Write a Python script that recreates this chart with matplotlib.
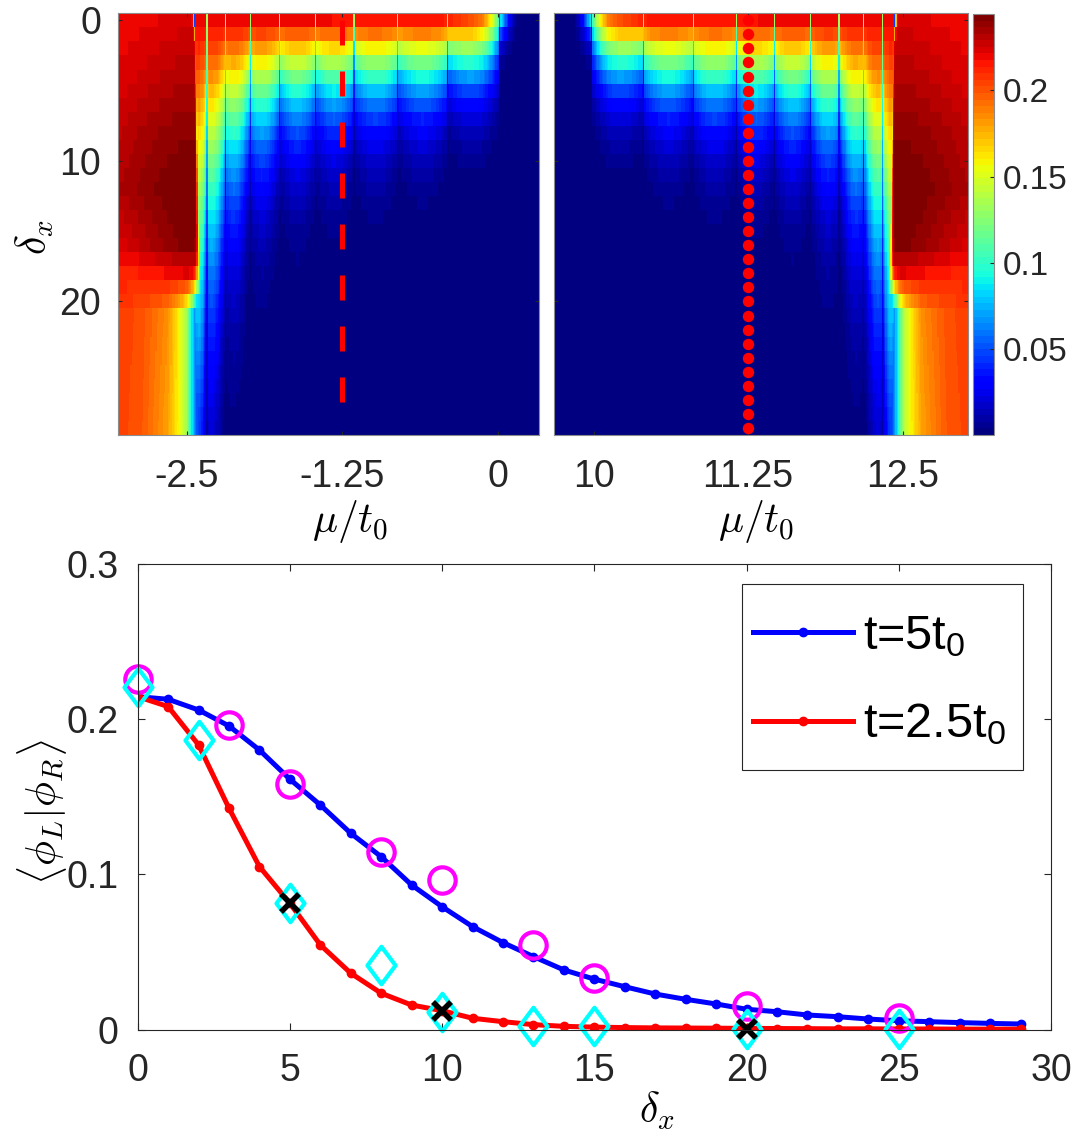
import numpy as np
import matplotlib
matplotlib.use("Agg")
import matplotlib.pyplot as plt
from matplotlib.path import Path
from matplotlib.patches import Rectangle

plt.rcParams['font.family'] = ['Liberation Sans', 'DejaVu Sans']
plt.rcParams['mathtext.fontset'] = 'custom'
plt.rcParams['mathtext.rm'] = 'Liberation Sans'
plt.rcParams['mathtext.it'] = 'Liberation Sans:italic'
plt.rcParams['axes.unicode_minus'] = False

GREY = (0.15, 0.15, 0.15)

# ---- bottom panel data ----
delta = np.arange(30)
t5 = [0.2144, 0.2127, 0.2058, 0.1955, 0.1800, 0.1612, 0.1446, 0.1264, 0.1113, 0.0931,
      0.0791, 0.0663, 0.0560, 0.0470, 0.0384, 0.0325, 0.0276, 0.0229, 0.0195, 0.0165,
      0.0131, 0.0115, 0.0094, 0.0083, 0.0068, 0.0057, 0.0051, 0.0045, 0.0040, 0.0036]
t25 = [0.2144, 0.2080, 0.1833, 0.1425, 0.1049, 0.0813, 0.0545, 0.0363, 0.0234, 0.0158,
       0.0122, 0.0073, 0.0051, 0.0032, 0.0021, 0.0016, 0.0013, 0.0011, 0.0010, 0.0009,
       0.0008, 0.0007, 0.0006, 0.0005, 0.0005, 0.0004, 0.0004, 0.0003, 0.0003, 0.0003]
circ_x = [0, 3, 5, 8, 10, 13, 15, 20, 25]
circ_y = [0.226, 0.196, 0.158, 0.1146, 0.0963, 0.0545, 0.033, 0.0152, 0.0073]
diam_x = [0, 2, 5, 8, 10, 13, 15, 20, 25]
diam_y = [0.2208, 0.1865, 0.0813, 0.0416, 0.0115, 0.002, 0.002, 0.0003, 0.0003]
cross_x = [5, 10, 20]
cross_y = [0.0813, 0.012, 0.0003]

# ---- top panels (left map; right map is its mirror mu -> 10 - mu) ----
mu_l = np.round(np.arange(-3.045, 0.33, 0.01), 3)
bulk_rows = [0, 4, 8, 12, 16, 18, 21, 29]
bulk_mu = [-3.05, -2.85, -2.65, -2.5, -2.42]
bulk_tab = [[0.218, 0.220, 0.222, 0.224, 0.224],
            [0.222, 0.226, 0.230, 0.232, 0.232],
            [0.228, 0.234, 0.238, 0.240, 0.240],
            [0.232, 0.238, 0.243, 0.244, 0.244],
            [0.222, 0.230, 0.238, 0.242, 0.240],
            [0.212, 0.214, 0.218, 0.222, 0.220],
            [0.206, 0.200, 0.185, 0.150, 0.090],
            [0.205, 0.198, 0.180, 0.150, 0.090]]
edge_rows = [0, 2, 10, 17, 19, 21, 29]
edge_mu = [-2.44, -2.42, -2.41, -2.40, -2.39, -2.40, -2.40]
edge_w = [0.004, 0.004, 0.004, 0.006, 0.02, 0.05, 0.05]
band_edges = [-2.43, -2.34, -2.18, -1.99, -1.75, -1.47, -1.16, -0.80, -0.41, 0.01]
seg_cyan_row = [15.0, 10.5, 7.0, 5.4, 4.5, 4.1, 3.8, 3.5, 2.9]
seg_tilt = [0.4, 0.55, 0.4, 0.2, 0.0, 0.0, 0.0, 0.0, 0.0]
amp_mu = [-3.05, -0.45, -0.2, -0.12, -0.04, 0.01, 0.09, 0.16, 0.33]
amp_val = [0.222, 0.215, 0.2, 0.19, 0.15, 0.1, 0.03, 0.0, 0.0]
mu_cut_left = -1.25
mu_cut_right = 11.25


def build_left():
    D = delta[:, None].astype(float)
    M = mu_l[None, :]
    tab = np.array(bulk_tab)
    tab_rows = np.array([np.interp(delta, bulk_rows, tab[:, j]) for j in range(len(bulk_mu))]).T
    bulk = np.array([np.interp(mu_l, bulk_mu, tab_rows[i]) for i in range(len(delta))])
    e_mu = np.interp(delta, edge_rows, edge_mu)[:, None]
    e_w = np.interp(delta, edge_rows, edge_w)[:, None]
    arg = np.clip((M - e_mu) / e_w, -50, 50)
    bulk = bulk / (1 + np.exp(arg))

    amp = np.interp(mu_l, amp_mu, amp_val)
    xi = np.full(mu_l.size, 1.2)
    for i in range(len(band_edges) - 1):
        a, b = band_edges[i], band_edges[i + 1]
        sel = (mu_l >= a) & (mu_l < b)
        f = (mu_l[sel] - a) / (b - a)
        tilt = seg_tilt[i]
        xi[sel] = seg_cyan_row[i] * (1 + tilt / 2 - tilt * f) * (0.88 + 0.22 * np.sin(np.pi * f))
    band = amp[None, :] * np.exp(-np.log(2.2) * (D / xi[None, :]) ** 1.3)
    band[:, mu_l < band_edges[0]] = 0
    Z = np.maximum(bulk, band)
    for e in band_edges[1:]:
        k = np.argmin(np.abs(mu_l - e))
        Z[:, k] *= 0.6
    return np.clip(Z, 0.001, None)


Z_left = build_left()
Z_right = Z_left[:, ::-1]
mu_r = 10 - mu_l[::-1]


def edges(c):
    h = (c[1] - c[0]) / 2
    return np.append(c - h, c[-1] + h)


row_edges = np.arange(31) - 0.5

fig = plt.figure(figsize=(10.8, 11.38), dpi=100)
W, H = 1080.0, 1138.0


def px_axes(x0, y0, x1, y1):
    return fig.add_axes([x0 / W, 1 - y1 / H, (x1 - x0) / W, (y1 - y0) / H])


ax_l = px_axes(118, 13.3, 539, 435)
ax_r = px_axes(554, 13.3, 968.3, 435)
cax = px_axes(973.3, 14, 994.3, 435)
bx0, by0, bx1, by1 = 137.7, 563.7, 1051, 1029.6
ax_b = px_axes(bx0, by0, bx1, by1)

cmap = plt.get_cmap('jet', 64)
vmin, vmax = 0.0005, 0.244
pc = ax_l.pcolormesh(edges(mu_l), row_edges, Z_left, cmap=cmap, vmin=vmin, vmax=vmax,
                     shading='flat', antialiased=False)
ax_r.pcolormesh(edges(mu_r), row_edges, Z_right, cmap=cmap, vmin=vmin, vmax=vmax,
                shading='flat', antialiased=False)

ax_l.plot(np.full(delta.size, mu_cut_left), delta, color='red', lw=3.6,
          dashes=(5, 5.2), dash_capstyle='butt')
ax_r.plot(np.full(delta.size, mu_cut_right), delta, ls='none', marker='o', ms=7.2,
          mfc='red', mec='red')

for ax, xl, ticks, labels in [(ax_l, (-3.05, 0.33), [-2.5, -1.25, 0], ['-2.5', '-1.25', '0']),
                              (ax_r, (9.68, 13.03), [10, 11.25, 12.5], ['10', '11.25', '12.5'])]:
    ax.set_xlim(*xl)
    ax.set_ylim(29.5, -0.5)
    ax.set_xticks(ticks)
    ax.set_xticklabels(labels)
    ax.set_yticks([0, 10, 20])
    ax.tick_params(direction='in', length=3, width=0.8, colors=GREY, labelsize=27,
                   top=True, right=True, pad=17)
    ax.tick_params(axis='y', pad=12)
    for s in ax.spines.values():
        s.set_color('0.55')
        s.set_linewidth(0.8)
ax_r.set_yticklabels([])

ax_l.set_xlabel(r'$\mu/t_0$', fontsize=30, math_fontfamily='cm', va='center')
ax_l.xaxis.set_label_coords(0.551, -0.205)
ax_r.set_xlabel(r'$\mu/t_0$', fontsize=30, math_fontfamily='cm', va='center')
ax_r.xaxis.set_label_coords(0.488, -0.205)
ax_l.set_ylabel(r'$\delta_x$', fontsize=30, math_fontfamily='cm', va='center')
ax_l.yaxis.set_label_coords(-0.197, 0.47)

cb = fig.colorbar(pc, cax=cax, ticks=[0.05, 0.1, 0.15, 0.2])
cb.ax.set_yticklabels(['0.05', '0.1', '0.15', '0.2'])
cb.ax.tick_params(direction='in', length=3, width=0.8, colors=GREY, labelsize=24, pad=6)
cb.outline.set_edgecolor('0.55')
cb.outline.set_linewidth(0.8)

# ---- bottom panel ----
ax_b.plot(delta, t5, color=(0, 0, 1), lw=3.6, marker='o', ms=6, label='t=5t$_0$')
ax_b.plot(delta, t25, color=(1, 0, 0), lw=3.6, marker='o', ms=6, label='t=2.5t$_0$')
ax_b.plot(circ_x, circ_y, ls='none', marker='o', ms=19, mfc='none', mec=(1, 0, 1), mew=3,
          clip_on=False)
diamond = Path([(0, 1), (0.75, 0), (0, -1), (-0.75, 0), (0, 1)],
               [Path.MOVETO, Path.LINETO, Path.LINETO, Path.LINETO, Path.CLOSEPOLY])
ax_b.plot(diam_x, diam_y, ls='none', marker=diamond, ms=27, mfc='none', mec=(0, 1, 1), mew=3,
          clip_on=False)
ax_b.plot(cross_x, cross_y, ls='none', marker='x', ms=13, mec='k', mew=4, clip_on=False)

ax_b.set_xlim(0, 30)
ax_b.set_ylim(0, 0.3)
ax_b.set_xticks([0, 5, 10, 15, 20, 25, 30])
ax_b.set_yticks([0, 0.1, 0.2, 0.3])
ax_b.set_yticklabels(['0', '0.1', '0.2', '0.3'])
ax_b.tick_params(direction='in', length=5, width=0.8, colors=GREY, labelsize=27,
                 top=True, right=True)
ax_b.tick_params(axis='x', pad=17)
ax_b.tick_params(axis='y', pad=14)
for s in ax_b.spines.values():
    s.set_color(GREY)
    s.set_linewidth(0.8)
ax_b.set_xlabel(r'$\delta_x$', fontsize=30, math_fontfamily='cm', va='center')
ax_b.xaxis.set_label_coords(0.5686, -0.1747)
ax_b.set_ylabel(r'$\langle\phi_L|\phi_R\rangle$', fontsize=30, math_fontfamily='cm', va='center')
ax_b.yaxis.set_label_coords(-0.1048, 0.467)


# legend: frameless legend plus a separate box so the box and the entries sit where they should
def ax_frac(px, py):
    return (px - bx0) / (bx1 - bx0), (by1 - py) / (by1 - by0)


lx0, ly0 = ax_frac(742, 770)
lx1, ly1 = ax_frac(1023.3, 584)
ax_b.add_patch(Rectangle((lx0, ly0), lx1 - lx0, ly1 - ly0, transform=ax_b.transAxes,
                         facecolor='white', edgecolor=GREY, lw=0.8, zorder=4.9))
leg = ax_b.legend(loc='upper left', bbox_to_anchor=ax_frac(752.7, 614), borderaxespad=0,
                  borderpad=0, fontsize=35, handlelength=2.06, handleheight=0.7,
                  handletextpad=0.2, labelspacing=0.88, frameon=False)
leg.set_zorder(5)

fig.savefig('out.png', dpi=100)
